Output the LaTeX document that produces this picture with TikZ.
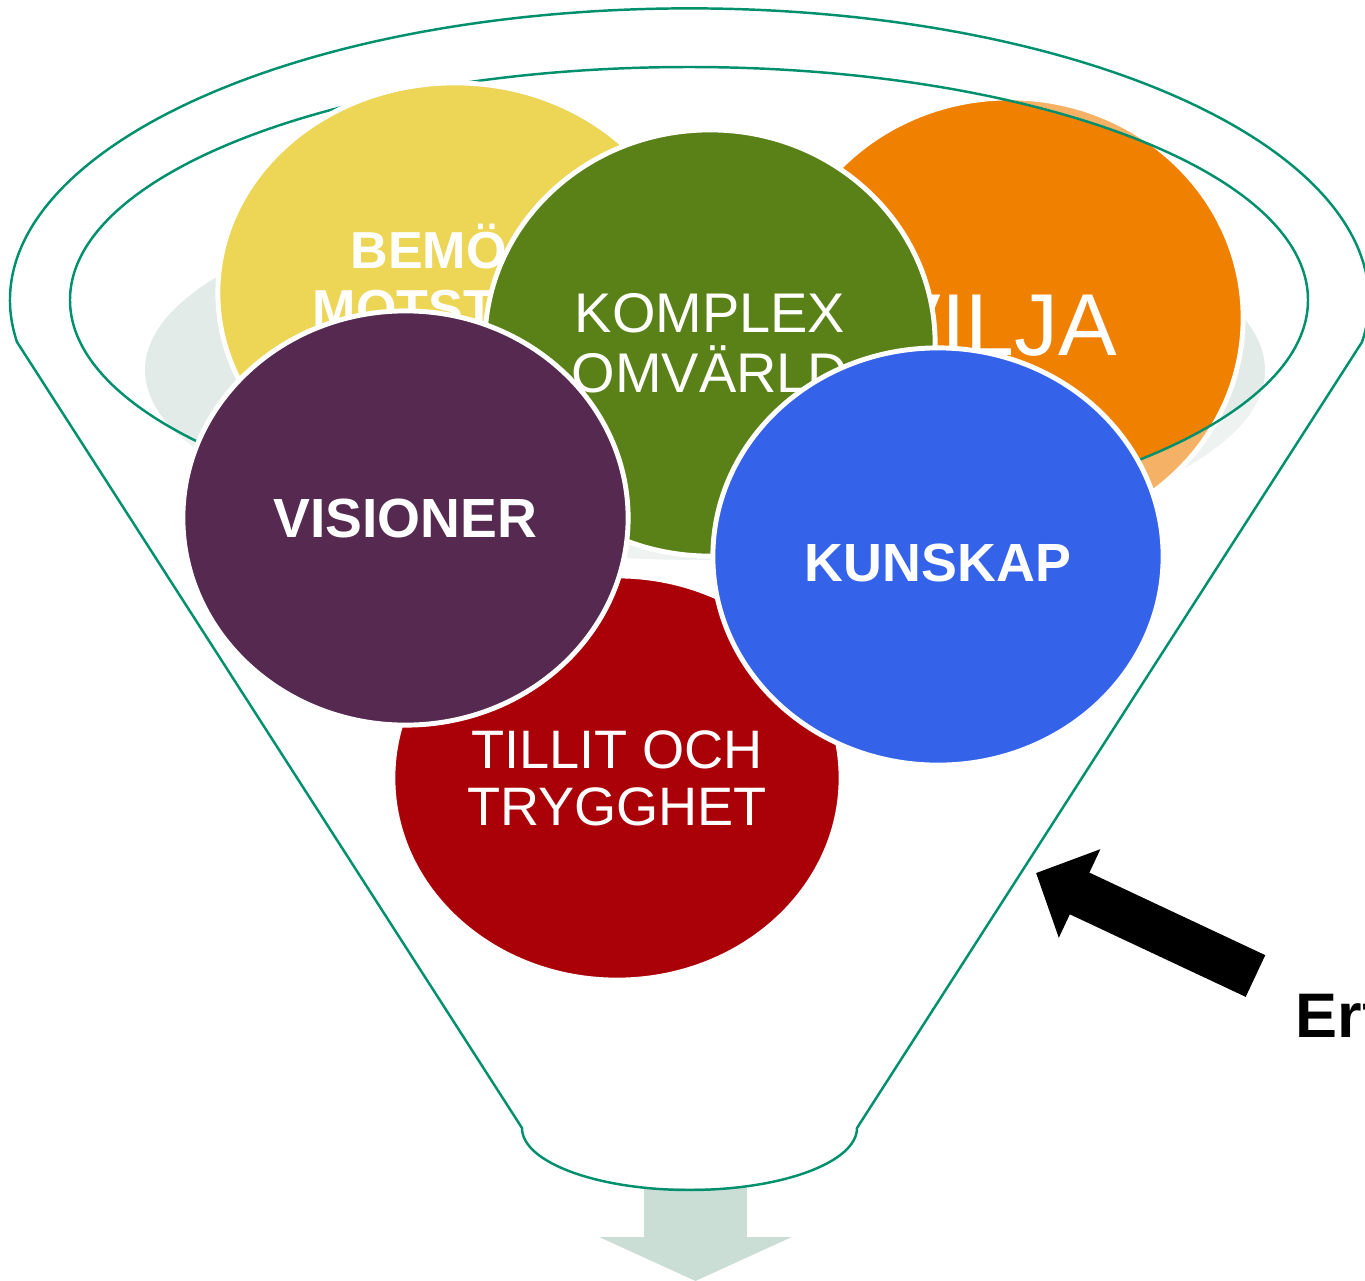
\documentclass[tikz,border=0pt]{standalone}
\usepackage{fontspec}
\setmainfont{Liberation Sans}
\usepackage{pgf,tikz}
\usetikzlibrary{shapes.geometric}
\usetikzlibrary{arrows.meta}
\definecolor{funnelgreen}{RGB}{0,144,110}
\definecolor{bemyellow}{RGB}{237,213,86}
\definecolor{viljaorange}{RGB}{239,128,0}
\definecolor{komplexgreen}{RGB}{90,129,24}
\definecolor{visionpurple}{RGB}{86,41,80}
\definecolor{tillitred}{RGB}{170,0,8}
\definecolor{kunskapblue}{RGB}{52,99,234}
\definecolor{shadowgrey}{RGB}{227,235,232}
\definecolor{outgrey}{RGB}{203,222,213}
\tikzset{bubble/.style={ellipse,draw=white,line width=1.4pt,inner sep=0pt,text=white,align=center},
  word/.style={inner sep=0pt,text=white}}

\begin{document}
\begin{tikzpicture}[x=0.01cm,y=-0.01cm]
\useasboundingbox (0,0) rectangle (1365,1281);
\clip (0,0) rectangle (1365,1281);
\fill [shadowgrey] (705,370) ellipse [x radius=560, y radius=190];

\node [bubble,fill=viljaorange,minimum width=4.66cm,minimum height=4.40cm] (vilja) at (1010,318) {};
\node [word,anchor=base east,font=\fontsize{25}{30}\selectfont] (viljatext) at (1118,355) {VILJA};

\fill [white,opacity=0.4,even odd rule] (17,342) arc [start angle=171.8, end angle=368.2, x radius=679.5, y radius=292]
-- (857,1128) arc [start angle=0, end angle=180, x radius=167.5, y radius=62] -- cycle
(689,300) ellipse [x radius=619, y radius=233];

\coordinate (outtop) at (695.5,1188);
\coordinate (outtip) at (695.5,1281);
\draw [outgrey, line width=29.3pt, -{Triangle[length=12.5pt,width=54.3pt]}] (outtop) -- (outtip);

\draw [funnelgreen, line width=0.7pt] (17,342) arc [start angle=171.8, end angle=368.2, x radius=679.5, y radius=292]
-- (857,1128) arc [start angle=0, end angle=180, x radius=167.5, y radius=62] -- cycle;
\draw [funnelgreen, line width=0.7pt] (689,300) ellipse [x radius=619, y radius=233];

\node [bubble,fill=bemyellow,minimum width=4.74cm,minimum height=4.20cm] (bem) at (455,293) {};
\node [word,anchor=base west,font=\bfseries\fontsize{14.8}{17}\selectfont] (bemtext) at (350,268) {BEMÖ};
\node [word,anchor=base west,font=\bfseries\fontsize{14.8}{17}\selectfont] (motsttext) at (312,326) {MOTST};

\node [bubble,fill=komplexgreen,minimum width=4.50cm,minimum height=4.26cm,
  font=\fontsize{15.9}{17.1}\selectfont] (komplex) at (710,343) {KOMPLEX\\OMVÄRLD};
\node [bubble,fill=tillitred,minimum width=4.48cm,minimum height=4.04cm,
  font=\fontsize{15.4}{16.2}\selectfont] (tillit) at (617,778) {TILLIT OCH\\TRYGGHET};
\node [bubble,fill=visionpurple,minimum width=4.45cm,minimum height=4.14cm,
  font=\bfseries\fontsize{15.7}{19}\selectfont] (vision) at (405.5,518) {VISIONER};
\node [bubble,fill=kunskapblue,minimum width=4.50cm,minimum height=4.17cm,text height=0.51cm,
  font=\bfseries\fontsize{15.3}{19}\selectfont] (kunskap) at (938,556.5) {KUNSKAP};

\coordinate (erftail) at (1255.5,976);
\coordinate (erftip) at (1036,873);
\draw [black, line width=13.1pt, -{Triangle[length=13.7pt,width=27pt]}] (erftail) -- (erftip);
\node [inner sep=0pt,anchor=base west,font=\bfseries\fontsize{17.9}{21}\selectfont] (erf) at (1295,1037) {Erf};
\end{tikzpicture}
\end{document}
